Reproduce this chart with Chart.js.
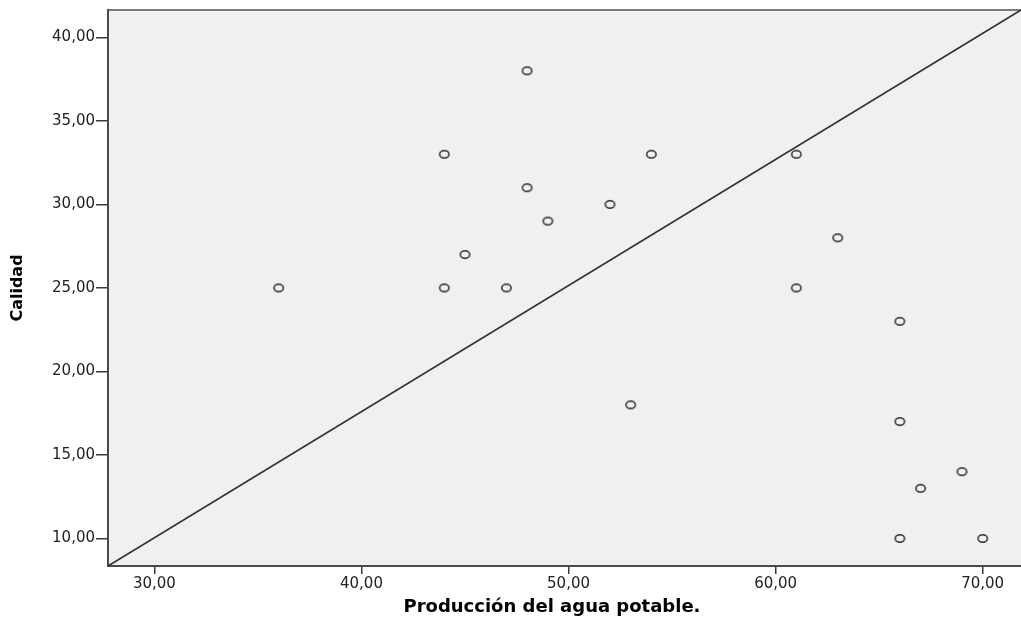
<!DOCTYPE html>
<html>
<head>
<meta charset="utf-8">
<script src="https://cdn.jsdelivr.net/npm/chart.js@4/dist/chart.umd.min.js"></script>
<style>
  html, body { margin: 0; padding: 0; background: #ffffff; }
  #wrap { width: 1021px; height: 626px; }
</style>
</head>
<body>
<div id="wrap"><canvas id="c" width="1021" height="626"></canvas></div>
<script>
// ---- data ----
const produccion = [36, 44, 44, 45, 47, 48, 48, 49, 52, 53, 54, 61, 61, 63, 66, 66, 66, 67, 69, 70];
const calidad    = [25, 33, 25, 27, 25, 38, 31, 29, 30, 18, 33, 33, 25, 28, 23, 17, 10, 13, 14, 10];
const xTickValues = [30, 40, 50, 60, 70];
const yTickValues = [10, 15, 20, 25, 30, 35, 40];
const xRange = [27.76, 71.85];
const yRange = [8.35, 41.64];
const refLineX = [27.76, 71.85];
const refLineY = [8.35, 41.64];
const xTitle = 'Producción del agua potable.\u00a0\u00a0\u00a0\u00a0';
const yTitle = 'Calidad';

// ---- point marker: small open ellipse ----
const marker = document.createElement('canvas');
marker.width = 13; marker.height = 11;
(function () {
  const g = marker.getContext('2d');
  g.strokeStyle = '#2b2b2b';
  g.lineWidth = 1.5;
  g.beginPath();
  g.ellipse(6.5, 5.5, 4.7, 3.7, 0, 0, Math.PI * 2);
  g.stroke();
})();

const fmt = v => v.toFixed(2).replace('.', ',');

const plotBg = {
  id: 'plotBg',
  beforeDraw(chart) {
    const { ctx, chartArea: a } = chart;
    ctx.save();
    ctx.fillStyle = '#f0f0f0';
    ctx.fillRect(a.left, a.top, a.right - a.left, a.bottom - a.top);
    ctx.strokeStyle = '#7a7a7a';
    ctx.lineWidth = 2;
    ctx.beginPath();
    ctx.moveTo(a.left, a.top);
    ctx.lineTo(a.right, a.top);
    ctx.stroke();
    ctx.restore();
  }
};

new Chart(document.getElementById('c'), {
  type: 'scatter',
  data: {
    datasets: [
      {
        type: 'line',
        data: refLineX.map((x, i) => ({ x, y: refLineY[i] })),
        borderColor: '#333333',
        borderWidth: 1.7,
        pointRadius: 0,
        fill: false,
        order: 2
      },
      {
        data: produccion.map((x, i) => ({ x, y: calidad[i] })),
        pointStyle: marker,
        pointRadius: 5,
        order: 1
      }
    ]
  },
  plugins: [plotBg],
  options: {
    responsive: false,
    animation: false,
    events: [],
    layout: { autoPadding: false, padding: { top: 8, right: 0, left: 0, bottom: 0 } },
    plugins: { legend: { display: false }, tooltip: { enabled: false } },
    scales: {
      x: {
        type: 'linear',
        min: xRange[0],
        max: xRange[1],
        afterBuildTicks: s => { s.ticks = xTickValues.map(v => ({ value: v })); },
        afterFit: s => { s.height = 60; },
        border: { display: true, color: '#4a4a4a', width: 2 },
        grid: { drawOnChartArea: false, drawTicks: true, tickLength: 8, color: '#3a3a3a', lineWidth: 1.5 },
        ticks: {
          color: '#222222',
          font: { family: 'DejaVu Sans', size: 15 },
          padding: 1,
          maxRotation: 0,
          callback: v => fmt(v)
        },
        title: {
          display: true,
          text: xTitle,
          color: '#000000',
          font: { family: 'DejaVu Sans', size: 18, weight: 'bold' },
          padding: { top: 0, bottom: 8 }
        }
      },
      y: {
        type: 'linear',
        min: yRange[0],
        max: yRange[1],
        afterBuildTicks: s => { s.ticks = yTickValues.map(v => ({ value: v })); },
        afterFit: s => { s.width = 108; },
        border: { display: true, color: '#4a4a4a', width: 2 },
        grid: { drawOnChartArea: false, drawTicks: true, tickLength: 12, color: '#3a3a3a', lineWidth: 1.5 },
        ticks: {
          color: '#222222',
          font: { family: 'DejaVu Sans', size: 15 },
          padding: 1,
          callback: v => fmt(v)
        },
        title: {
          display: true,
          text: yTitle,
          color: '#000000',
          font: { family: 'DejaVu Sans', size: 16, weight: 'bold' },
          padding: { top: 8, bottom: 0 }
        }
      }
    }
  }
});
</script>
</body>
</html>
